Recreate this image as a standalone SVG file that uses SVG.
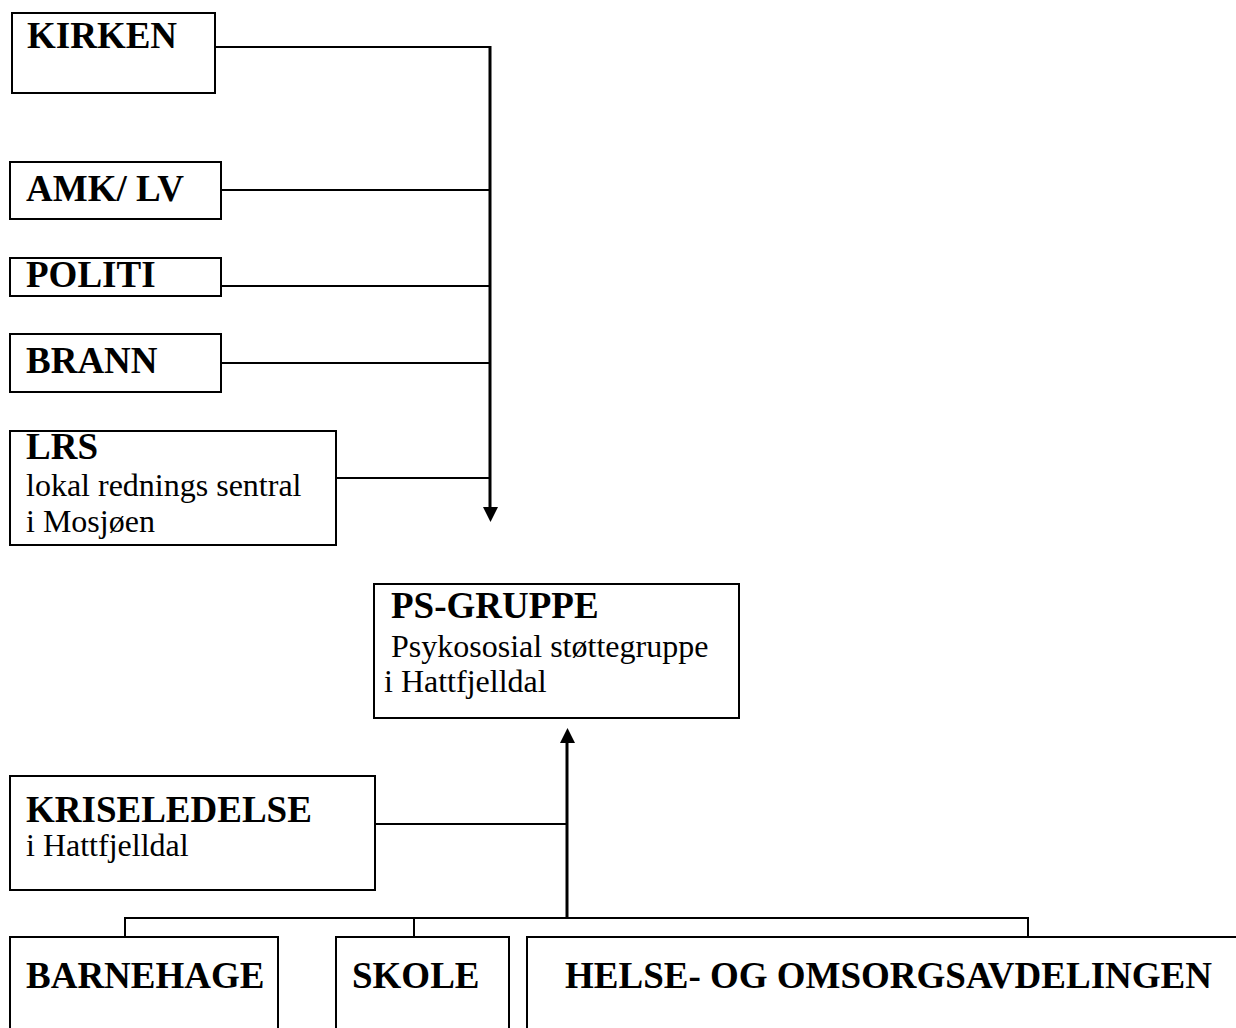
<svg xmlns="http://www.w3.org/2000/svg" width="1236" height="1028" viewBox="0 0 1236 1028">
<style>
.box{fill:#fff;stroke:#000;stroke-width:2}
.b{font-family:"Liberation Serif","Times New Roman",serif;font-weight:bold;font-size:37px;fill:#000}
.r{font-family:"Liberation Serif","Times New Roman",serif;font-size:32px;fill:#000}
.ln{fill:none;stroke:#000;stroke-width:2}
.tk{fill:none;stroke:#000;stroke-width:3}
</style>
<rect width="1236" height="1028" fill="#fff"/>
<g id="connectors">
<path class="ln" d="M215 47H490M221 190H490M221 286H490M221 363H490M336 478H490"/>
<path class="tk" d="M490 46V508"/>
<polygon points="483,507 498,507 490.5,522" fill="#000"/>
<path class="tk" d="M567 742V919"/>
<polygon points="560,743 575,743 567.5,728" fill="#000"/>
<path class="ln" d="M375 824H567"/>
<path class="ln" d="M125 937V918H1028V937M414 918V937"/>
</g>
<g id="kirken"><rect class="box" x="12" y="13" width="203" height="80"/><text class="b" x="27" y="48">KIRKEN</text></g>
<g id="amk"><rect class="box" x="10" y="162" width="211" height="57"/><text class="b" x="26" y="201">AMK/ LV</text></g>
<g id="politi"><rect class="box" x="10" y="258" width="211" height="38"/><text class="b" x="26" y="287">POLITI</text></g>
<g id="brann"><rect class="box" x="10" y="334" width="211" height="58"/><text class="b" x="26" y="373">BRANN</text></g>
<g id="lrs"><rect class="box" x="10" y="431" width="326" height="114"/><text class="b" x="26" y="459">LRS</text><text class="r" x="26" y="496">lokal rednings sentral</text><text class="r" x="26" y="532">i Mosjøen</text></g>
<g id="ps"><rect class="box" x="374" y="584" width="365" height="134"/><text class="b" x="391" y="618">PS-GRUPPE</text><text class="r" x="391" y="657">Psykososial støttegruppe</text><text class="r" x="384" y="692">i Hattfjelldal</text></g>
<g id="kriseledelse"><rect class="box" x="10" y="776" width="365" height="114"/><text class="b" x="26" y="822">KRISELEDELSE</text><text class="r" x="26" y="856">i Hattfjelldal</text></g>
<g id="barnehage"><rect class="box" x="10" y="937" width="268" height="110"/><text class="b" x="26" y="988">BARNEHAGE</text></g>
<g id="skole"><rect class="box" x="336" y="937" width="173" height="110"/><text class="b" x="352" y="988">SKOLE</text></g>
<g id="helse"><rect class="box" x="527" y="937" width="730" height="110"/><text class="b" x="565" y="988">HELSE- OG OMSORGSAVDELINGEN</text></g>
</svg>
